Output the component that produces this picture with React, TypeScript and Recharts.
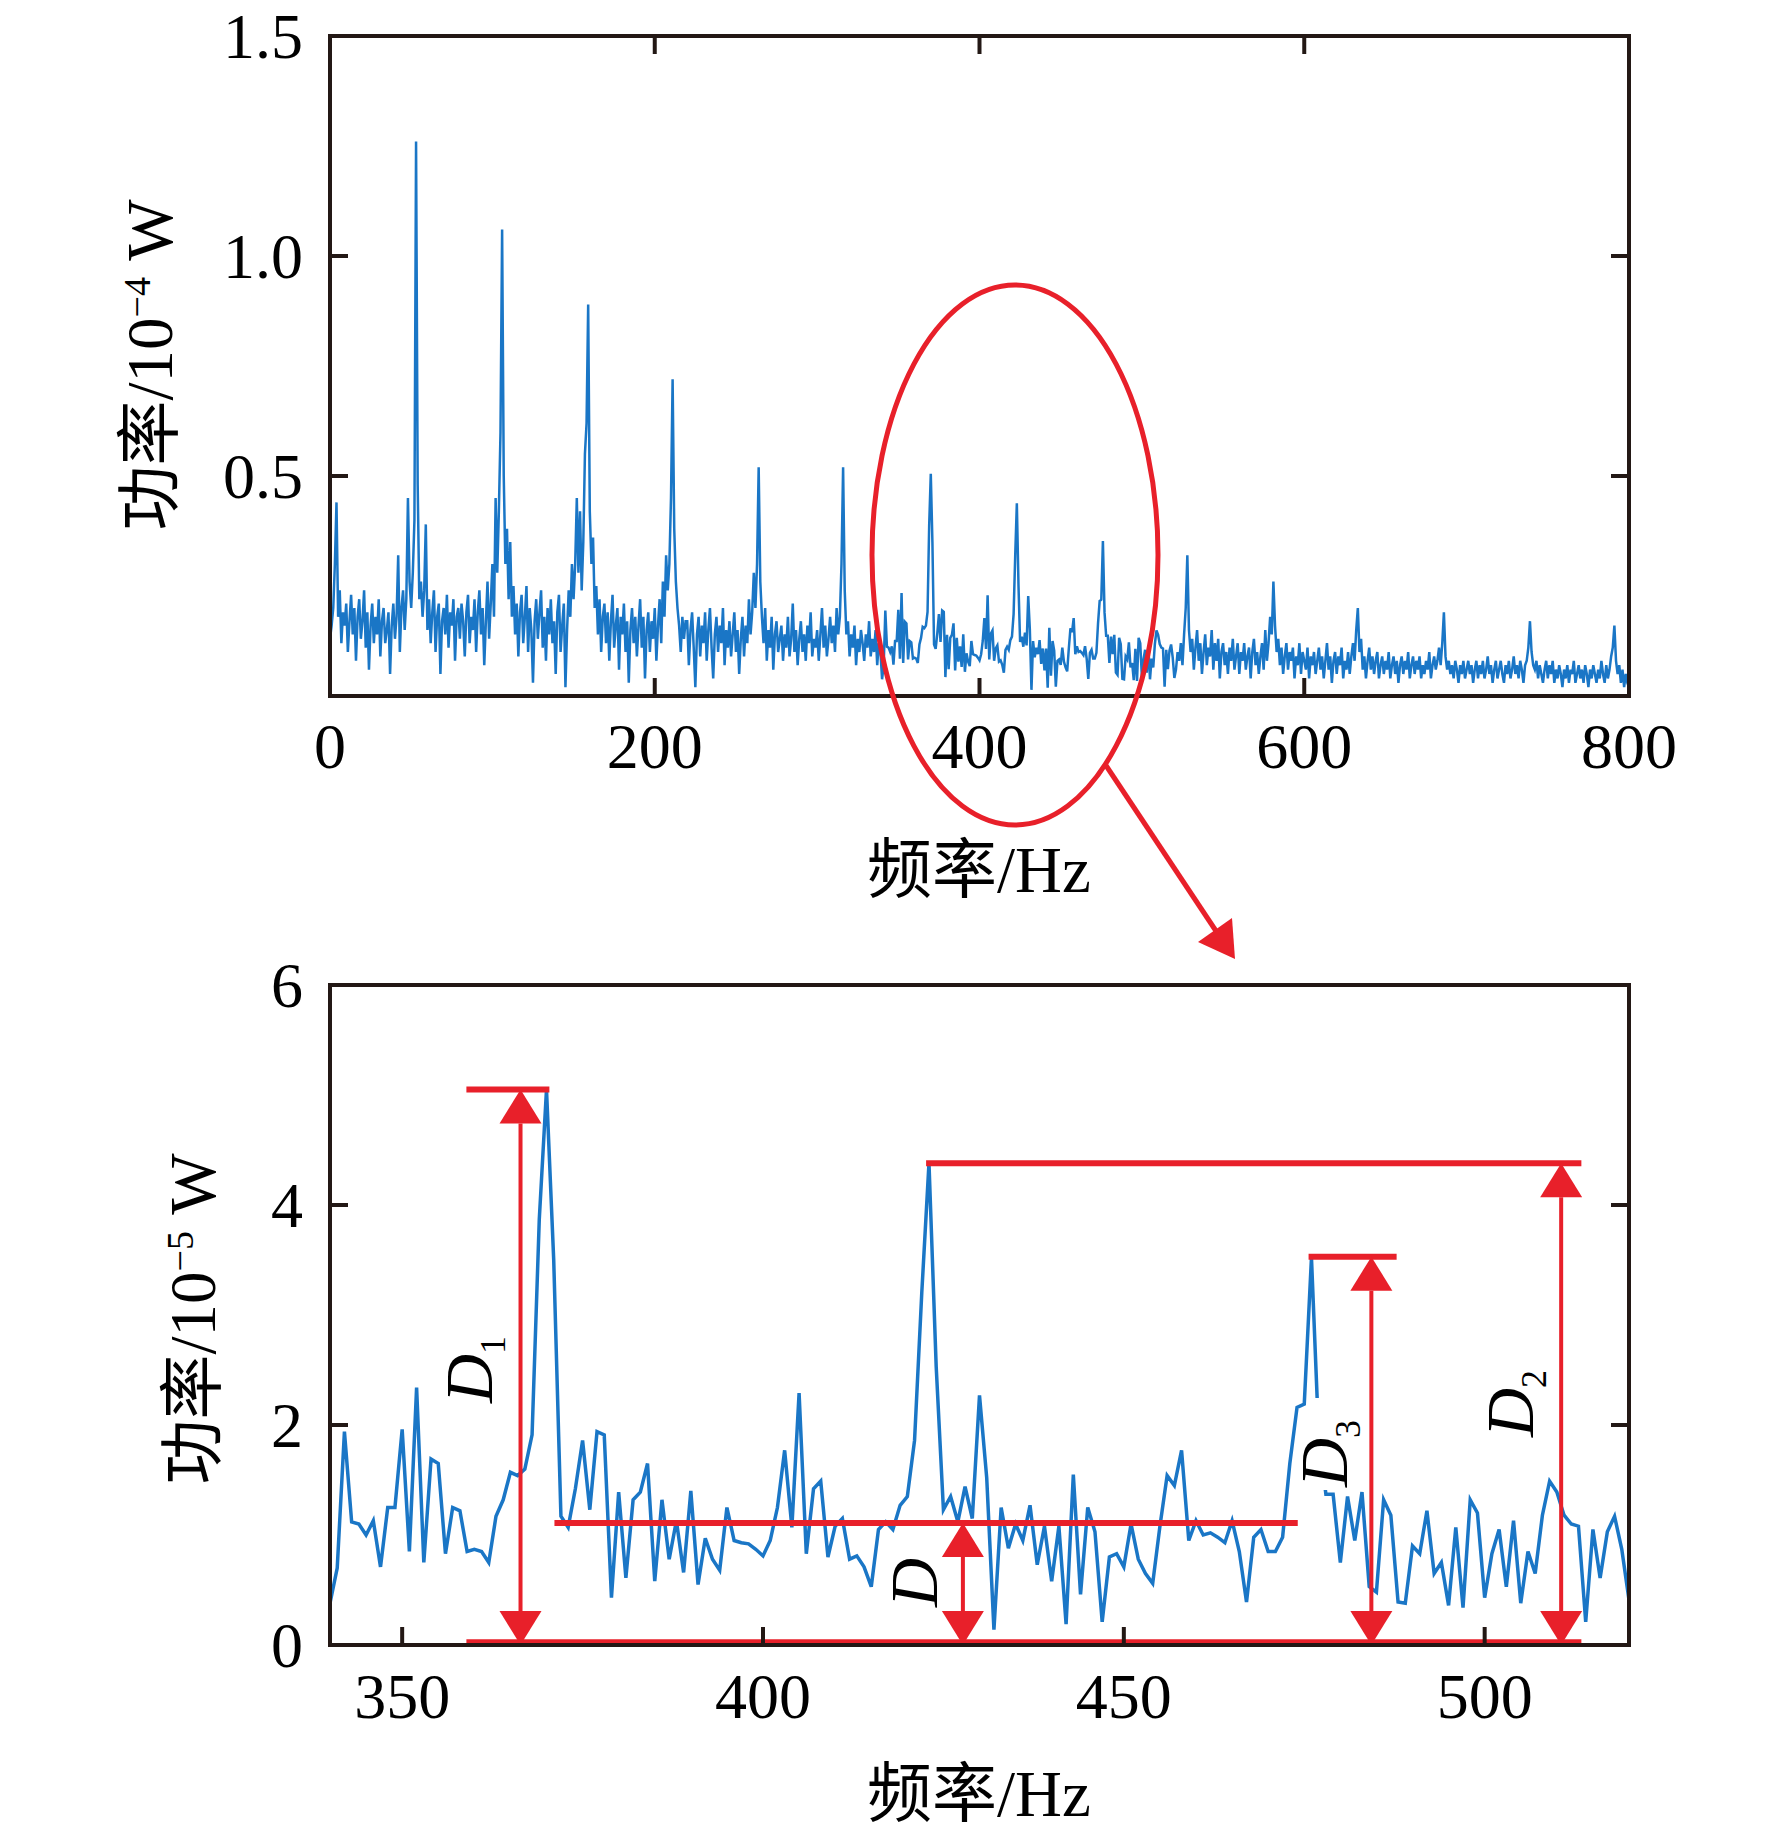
import React from 'react';
import { LineChart, Line, XAxis, YAxis, ReferenceLine } from 'recharts';

const AXIS_COLOR = '#231815';
const LINE_COLOR = '#1a76c6';
const RED = '#e8202a';
const SERIF = '"Liberation Serif", "Times New Roman", "Noto Sans CJK SC", serif';

// full spectrum, 0-339 Hz, 1 Hz step, unit 10^-4 W
const spectrumLow = [
  0.13, 0.16, 0.20, 0.30, 0.44, 0.18, 0.24, 0.12, 0.19, 0.16,
  0.21, 0.10, 0.17, 0.23, 0.14, 0.20, 0.08, 0.18, 0.22, 0.13,
  0.17, 0.24, 0.11, 0.19, 0.06, 0.16, 0.21, 0.12, 0.18, 0.14,
  0.22, 0.09, 0.17, 0.20, 0.12, 0.15, 0.19, 0.05, 0.16, 0.21,
  0.13, 0.18, 0.32, 0.10, 0.20, 0.24, 0.15, 0.22, 0.45, 0.26,
  0.20, 0.28, 0.40, 1.26, 0.48, 0.22, 0.26, 0.18, 0.24, 0.39,
  0.15, 0.22, 0.12, 0.19, 0.24, 0.10, 0.18, 0.21, 0.05, 0.17,
  0.20, 0.14, 0.23, 0.11, 0.19, 0.16, 0.22, 0.08, 0.18, 0.20,
  0.13, 0.21, 0.17, 0.09, 0.19, 0.23, 0.12, 0.18, 0.15, 0.22,
  0.10, 0.19, 0.24, 0.14, 0.20, 0.07, 0.17, 0.26, 0.13, 0.21,
  0.30, 0.18, 0.45, 0.28, 0.42, 0.60, 1.06, 0.50, 0.30, 0.38,
  0.22, 0.35, 0.18, 0.25, 0.14, 0.21, 0.09, 0.19, 0.23, 0.12,
  0.18, 0.25, 0.10, 0.20, 0.15, 0.03, 0.17, 0.22, 0.13, 0.19,
  0.24, 0.11, 0.18, 0.08, 0.20, 0.14, 0.22, 0.12, 0.17, 0.05,
  0.19, 0.23, 0.10, 0.16, 0.21, 0.02, 0.15, 0.24, 0.18, 0.30,
  0.22, 0.30, 0.45, 0.28, 0.42, 0.24, 0.35, 0.55, 0.62, 0.89,
  0.42, 0.30, 0.36, 0.20, 0.25, 0.14, 0.22, 0.10, 0.18, 0.21,
  0.12, 0.19, 0.08, 0.17, 0.23, 0.11, 0.16, 0.20, 0.06, 0.18,
  0.14, 0.21, 0.10, 0.17, 0.03, 0.15, 0.20, 0.12, 0.18, 0.09,
  0.16, 0.22, 0.11, 0.18, 0.04, 0.15, 0.19, 0.10, 0.17, 0.13,
  0.20, 0.08, 0.16, 0.22, 0.12, 0.26, 0.18, 0.32, 0.24, 0.30,
  0.45, 0.72, 0.38, 0.26, 0.20, 0.16, 0.10, 0.18, 0.13, 0.17,
  0.17, 0.07, 0.15, 0.19, 0.11, 0.02, 0.14, 0.18, 0.09, 0.16,
  0.12, 0.19, 0.08, 0.15, 0.20, 0.11, 0.04, 0.14, 0.18, 0.10,
  0.16, 0.12, 0.20, 0.07, 0.15, 0.11, 0.17, 0.09, 0.14, 0.19,
  0.10, 0.15, 0.05, 0.13, 0.18, 0.09, 0.16, 0.12, 0.22, 0.14,
  0.19, 0.28, 0.20, 0.30, 0.52, 0.26, 0.18, 0.12, 0.20, 0.08,
  0.15, 0.11, 0.18, 0.06, 0.14, 0.17, 0.10, 0.13, 0.16, 0.08,
  0.14, 0.11, 0.18, 0.09, 0.13, 0.21, 0.10, 0.15, 0.07, 0.13,
  0.17, 0.10, 0.14, 0.08, 0.16, 0.12, 0.19, 0.09, 0.13, 0.11,
  0.15, 0.08, 0.14, 0.20, 0.11, 0.16, 0.09, 0.13, 0.18, 0.12,
  0.16, 0.10, 0.20, 0.14, 0.18, 0.30, 0.52, 0.24, 0.14, 0.17,
  0.09, 0.14, 0.11, 0.16, 0.07, 0.13, 0.10, 0.15, 0.12, 0.08,
  0.14, 0.11, 0.17, 0.09, 0.13, 0.10, 0.15, 0.07, 0.12, 0.10,
];

// zoomed window, 340-520 Hz, 1 Hz step, unit 10^-5 W
const zoomPower = [
  0.38, 0.70, 1.94, 1.12, 1.10, 1.00, 1.13, 0.71, 1.25, 1.25,
  1.96, 0.85, 2.34, 0.75, 1.69, 1.65, 0.83, 1.25, 1.22, 0.85,
  0.87, 0.85, 0.75, 1.17, 1.32, 1.57, 1.54, 1.60, 1.91, 3.87,
  5.05, 3.50, 1.17, 1.07, 1.42, 1.86, 1.23, 1.94, 1.91, 0.43,
  1.39, 0.61, 1.32, 1.39, 1.65, 0.58, 1.32, 0.78, 1.13, 0.66,
  1.40, 0.55, 0.97, 0.78, 0.68, 1.25, 0.95, 0.93, 0.92, 0.87,
  0.81, 0.95, 1.25, 1.77, 1.07, 2.29, 0.83, 1.42, 1.49, 0.80,
  1.08, 1.15, 0.78, 0.81, 0.71, 0.53, 1.05, 1.12, 1.05, 1.27,
  1.35, 1.86, 3.20, 4.38, 2.53, 1.23, 1.35, 1.12, 1.44, 1.15,
  2.27, 1.52, 0.14, 1.25, 0.88, 1.10, 0.95, 1.27, 0.73, 1.08,
  0.58, 1.08, 0.19, 1.55, 0.46, 1.25, 1.03, 0.21, 0.80, 0.83,
  0.71, 1.10, 0.78, 0.65, 0.56, 1.08, 1.54, 1.45, 1.77, 0.95,
  1.13, 1.00, 1.02, 0.98, 0.93, 1.13, 0.85, 0.39, 0.98, 1.05,
  0.85, 0.85, 0.98, 1.65, 2.16, 2.19, 3.52, 1.90, 1.37, 1.37,
  0.75, 1.35, 0.95, 1.39, 0.53, 0.48, 1.32, 1.18, 0.39, 0.38,
  0.90, 0.83, 1.22, 0.65, 0.75, 0.36, 1.07, 0.34, 1.32, 1.20,
  0.43, 0.83, 1.05, 0.53, 1.13, 0.38, 0.85, 0.65, 1.18, 1.49,
  1.39, 1.18, 1.10, 1.08, 0.21, 1.05, 0.61, 1.03, 1.17, 0.87,
  0.41,
];

// full spectrum, 521-800 Hz, 1 Hz step, unit 10^-4 W
const spectrumHigh = [
  0.06, 0.10, 0.08, 0.12, 0.07, 0.14, 0.20, 0.32, 0.15, 0.10,
  0.13, 0.06, 0.11, 0.15, 0.08, 0.12, 0.05, 0.10, 0.14, 0.07,
  0.11, 0.09, 0.15, 0.06, 0.12, 0.08, 0.13, 0.04, 0.10, 0.12,
  0.07, 0.10, 0.05, 0.11, 0.08, 0.13, 0.06, 0.09, 0.12, 0.05,
  0.10, 0.08, 0.12, 0.06, 0.09, 0.11, 0.04, 0.10, 0.13, 0.07,
  0.10, 0.05, 0.09, 0.12, 0.06, 0.15, 0.08, 0.12, 0.18, 0.14,
  0.26, 0.16, 0.10, 0.13, 0.07, 0.11, 0.05, 0.09, 0.12, 0.06,
  0.10, 0.08, 0.11, 0.04, 0.09, 0.07, 0.12, 0.05, 0.10, 0.08,
  0.06, 0.11, 0.04, 0.09, 0.07, 0.10, 0.05, 0.08, 0.11, 0.06,
  0.09, 0.04, 0.08, 0.12, 0.06, 0.09, 0.03, 0.08, 0.10, 0.05,
  0.09, 0.07, 0.11, 0.04, 0.08, 0.06, 0.10, 0.05, 0.09, 0.12,
  0.08, 0.15, 0.20, 0.10, 0.13, 0.06, 0.09, 0.04, 0.08, 0.11,
  0.06, 0.09, 0.05, 0.08, 0.10, 0.04, 0.07, 0.09, 0.05, 0.08,
  0.06, 0.10, 0.04, 0.07, 0.09, 0.05, 0.08, 0.03, 0.07, 0.09,
  0.05, 0.08, 0.06, 0.10, 0.04, 0.07, 0.09, 0.05, 0.08, 0.06,
  0.09, 0.04, 0.07, 0.05, 0.08, 0.06, 0.10, 0.04, 0.07, 0.09,
  0.06, 0.08, 0.11, 0.07, 0.12, 0.19, 0.09, 0.06, 0.08, 0.05,
  0.07, 0.04, 0.08, 0.06, 0.03, 0.07, 0.05, 0.08, 0.04, 0.06,
  0.08, 0.05, 0.07, 0.03, 0.06, 0.08, 0.04, 0.07, 0.05, 0.08,
  0.04, 0.06, 0.09, 0.05, 0.07, 0.03, 0.06, 0.08, 0.04, 0.06,
  0.08, 0.05, 0.03, 0.07, 0.05, 0.08, 0.04, 0.06, 0.09, 0.05,
  0.07, 0.04, 0.08, 0.06, 0.03, 0.07, 0.08, 0.11, 0.17, 0.10,
  0.07, 0.06, 0.08, 0.04, 0.07, 0.05, 0.03, 0.06, 0.08, 0.04,
  0.07, 0.05, 0.08, 0.03, 0.06, 0.04, 0.07, 0.05, 0.02, 0.06,
  0.04, 0.07, 0.03, 0.06, 0.05, 0.08, 0.03, 0.05, 0.07, 0.04,
  0.06, 0.03, 0.07, 0.05, 0.02, 0.06, 0.04, 0.07, 0.05, 0.03,
  0.06, 0.04, 0.08, 0.05, 0.03, 0.07, 0.04, 0.06, 0.09, 0.11,
  0.16, 0.08, 0.05, 0.07, 0.03, 0.06, 0.02, 0.05, 0.03, 0.02,
];

const spectrumTicksX = [0, 200, 400, 600, 800];
const spectrumTicksY = [0.5, 1.0, 1.5];
const zoomTicksX = [350, 400, 450, 500];
const zoomTicksY = [0, 2, 4, 6];

const FREQ_STEP = 1; // Hz
const ZOOM_START = 340;

// marked levels in the zoom window (10^-5 W)
const levelD1 = 5.05;
const levelD2 = 4.38;
const levelD3 = 3.53;
const levelBase = 1.11;
const levelZero = 0.03;

// zoom window (10^-5 W) is the same data as 340-520 Hz of the full spectrum (10^-4 W)
const spectrumPower = [...spectrumLow, ...zoomPower.map((v) => v / 10), ...spectrumHigh];
const spectrumData = spectrumPower.map((p, i) => ({ f: i * FREQ_STEP, p }));
const zoomData = zoomPower.map((p, i) => ({ f: ZOOM_START + i * FREQ_STEP, p }));

const TICK_LEN = 18;
const axisLine = { stroke: AXIS_COLOR, strokeWidth: 4, strokeLinecap: 'square' as const };

const BottomTick = ({ x, y, payload, fmt, dy }: any) => (
  <g>
    <line x1={x} y1={y} x2={x} y2={y - TICK_LEN} stroke={AXIS_COLOR} strokeWidth={4} />
    <text x={x} y={y + dy} textAnchor="middle" fontSize={64} fontFamily={SERIF} fill="#000">
      {fmt(payload.value)}
    </text>
  </g>
);

const LeftTick = ({ x, y, payload, fmt }: any) => (
  <g>
    <line x1={x} y1={y} x2={x + TICK_LEN} y2={y} stroke={AXIS_COLOR} strokeWidth={4} />
    <text x={x - 27} y={y + 22} textAnchor="end" fontSize={64} fontFamily={SERIF} fill="#000">
      {fmt(payload.value)}
    </text>
  </g>
);

const TopTick = ({ x, y }: any) => (
  <line x1={x} y1={y} x2={x} y2={y + TICK_LEN} stroke={AXIS_COLOR} strokeWidth={4} />
);

const RightTick = ({ x, y }: any) => (
  <line x1={x} y1={y} x2={x - TICK_LEN} y2={y} stroke={AXIS_COLOR} strokeWidth={4} />
);

// vertical double-headed arrow
const DoubleArrow = (props: any) => {
  const { x1, y1, y2 } = props;
  const top = Math.min(y1, y2);
  const bot = Math.max(y1, y2);
  const hl = 34;
  const hw = 21;
  return (
    <g>
      <line x1={x1} y1={top + hl} x2={x1} y2={bot - hl} stroke={RED} strokeWidth={4} />
      <polygon points={`${x1},${top} ${x1 - hw},${top + hl} ${x1 + hw},${top + hl}`} fill={RED} />
      <polygon points={`${x1},${bot} ${x1 - hw},${bot - hl} ${x1 + hw},${bot - hl}`} fill={RED} />
    </g>
  );
};

const DLabel = ({ x, y, sub }: { x: number; y: number; sub?: string }) => (
  <text
    x={x}
    y={y}
    transform={`rotate(-90 ${x} ${y})`}
    fontSize={68}
    fontStyle="italic"
    fontFamily={SERIF}
    fill="#000"
  >
    D
    {sub && (
      <tspan fontStyle="normal" fontSize={36} dy={13}>
        {sub}
      </tspan>
    )}
  </text>
);

const fmtOne = (v: number) => v.toFixed(1);
const fmtInt = (v: number) => String(v);

export default function App() {
  return (
    <div style={{ position: 'absolute', left: 0, top: 0, width: 1772, height: 1838, background: '#fff' }}>
      {/* full spectrum */}
      <div style={{ position: 'absolute', left: 0, top: 0 }}>
        <LineChart width={1772} height={800} data={spectrumData} margin={{ top: 35, right: 142, bottom: 0, left: 0 }}>
          <XAxis
            dataKey="f"
            type="number"
            domain={[0, 800]}
            ticks={spectrumTicksX}
            interval={0}
            height={104}
            tickSize={0}
            tickMargin={0}
            tickLine={false}
            axisLine={axisLine}
            allowDataOverflow
            tick={(p: any) => <BottomTick {...p} fmt={fmtInt} dy={72} />}
          />
          <XAxis
            xAxisId="top"
            orientation="top"
            type="number"
            domain={[0, 800]}
            ticks={spectrumTicksX}
            interval={0}
            height={1}
            tickSize={0}
            tickMargin={0}
            tickLine={false}
            axisLine={axisLine}
            allowDataOverflow
            tick={(p: any) => <TopTick {...p} />}
          />
          <YAxis
            type="number"
            domain={[0, 1.5]}
            ticks={spectrumTicksY}
            interval={0}
            width={330}
            tickSize={0}
            tickMargin={0}
            tickLine={false}
            axisLine={axisLine}
            allowDataOverflow
            tick={(p: any) => <LeftTick {...p} fmt={fmtOne} />}
          />
          <YAxis
            yAxisId="right"
            orientation="right"
            type="number"
            domain={[0, 1.5]}
            ticks={spectrumTicksY}
            interval={0}
            width={1}
            tickSize={0}
            tickMargin={0}
            tickLine={false}
            axisLine={axisLine}
            allowDataOverflow
            tick={(p: any) => <RightTick {...p} />}
          />
          <Line type="linear" dataKey="p" stroke={LINE_COLOR} strokeWidth={2.5} dot={false} isAnimationActive={false} />
        </LineChart>
      </div>

      {/* zoomed window */}
      <div style={{ position: 'absolute', left: 0, top: 940 }}>
        <LineChart width={1772} height={898} data={zoomData} margin={{ top: 44, right: 142, bottom: 0, left: 0 }}>
          <XAxis
            dataKey="f"
            type="number"
            domain={[340, 520]}
            ticks={zoomTicksX}
            interval={0}
            height={193}
            tickSize={0}
            tickMargin={0}
            tickLine={false}
            axisLine={axisLine}
            allowDataOverflow
            tick={(p: any) => <BottomTick {...p} fmt={fmtInt} dy={73} />}
          />
          <XAxis
            xAxisId="top"
            orientation="top"
            type="number"
            domain={[340, 520]}
            ticks={zoomTicksX}
            interval={0}
            height={1}
            tickSize={0}
            tickMargin={0}
            tickLine={false}
            axisLine={axisLine}
            allowDataOverflow
            tick={(p: any) => <TopTick {...p} />}
          />
          <YAxis
            type="number"
            domain={[0, 6]}
            ticks={zoomTicksY}
            interval={0}
            width={330}
            tickSize={0}
            tickMargin={0}
            tickLine={false}
            axisLine={axisLine}
            allowDataOverflow
            tick={(p: any) => <LeftTick {...p} fmt={fmtInt} />}
          />
          <YAxis
            yAxisId="right"
            orientation="right"
            type="number"
            domain={[0, 6]}
            ticks={zoomTicksY}
            interval={0}
            width={1}
            tickSize={0}
            tickMargin={0}
            tickLine={false}
            axisLine={axisLine}
            allowDataOverflow
            tick={(p: any) => <RightTick {...p} />}
          />
          <Line type="linear" dataKey="p" stroke={LINE_COLOR} strokeWidth={3.5} dot={false} isAnimationActive={false} />

          <ReferenceLine segment={[{ x: 358.9, y: levelZero }, { x: 513.4, y: levelZero }]} stroke={RED} strokeWidth={5} />
          <ReferenceLine segment={[{ x: 358.9, y: levelD1 }, { x: 370.4, y: levelD1 }]} stroke={RED} strokeWidth={6} />
          <ReferenceLine segment={[{ x: 371.1, y: levelBase }, { x: 474.1, y: levelBase }]} stroke={RED} strokeWidth={6} />
          <ReferenceLine segment={[{ x: 422.6, y: levelD2 }, { x: 513.4, y: levelD2 }]} stroke={RED} strokeWidth={6} />
          <ReferenceLine segment={[{ x: 475.6, y: levelD3 }, { x: 487.8, y: levelD3 }]} stroke={RED} strokeWidth={6} />

          <ReferenceLine segment={[{ x: 366.4, y: 0 }, { x: 366.4, y: levelD1 }]} stroke={RED} shape={DoubleArrow} />
          <ReferenceLine segment={[{ x: 427.7, y: 0 }, { x: 427.7, y: levelBase }]} stroke={RED} shape={DoubleArrow} />
          <ReferenceLine segment={[{ x: 484.3, y: 0 }, { x: 484.3, y: levelD3 }]} stroke={RED} shape={DoubleArrow} />
          <ReferenceLine segment={[{ x: 510.6, y: 0 }, { x: 510.6, y: levelD2 }]} stroke={RED} shape={DoubleArrow} />
        </LineChart>
      </div>

      {/* titles, labels and the zoom callout */}
      <svg width={1772} height={1838} style={{ position: 'absolute', left: 0, top: 0, pointerEvents: 'none' }}>
        <ellipse cx={1015} cy={555} rx={143} ry={270} fill="none" stroke={RED} strokeWidth={5} />
        <line x1={1105} y1={764} x2={1216} y2={931} stroke={RED} strokeWidth={5} />
        <polygon points="1235,959 1198,942 1232,918" fill={RED} />

        <text x={979} y={892} textAnchor="middle" fontSize={65} fontFamily={SERIF} fill="#000">
          频率/Hz
        </text>
        <text x={979} y={1816} textAnchor="middle" fontSize={65} fontFamily={SERIF} fill="#000">
          频率/Hz
        </text>
        <text x={172} y={365} transform="rotate(-90 172 365)" textAnchor="middle" fontSize={65} fontFamily={SERIF} fill="#000">
          功率/10
          <tspan fontSize={38} dy={-22}>−4</tspan>
          <tspan dy={22}> W</tspan>
        </text>
        <text x={215} y={1319} transform="rotate(-90 215 1319)" textAnchor="middle" fontSize={65} fontFamily={SERIF} fill="#000">
          功率/10
          <tspan fontSize={38} dy={-22}>−5</tspan>
          <tspan dy={22}> W</tspan>
        </text>

        <rect x={1310} y={1398} width={56} height={92} fill="#fff" />
        <DLabel x={492} y={1403} sub="1" />
        <DLabel x={937} y={1607} />
        <DLabel x={1347} y={1487} sub="3" />
        <DLabel x={1533} y={1437} sub="2" />
      </svg>
    </div>
  );
}
